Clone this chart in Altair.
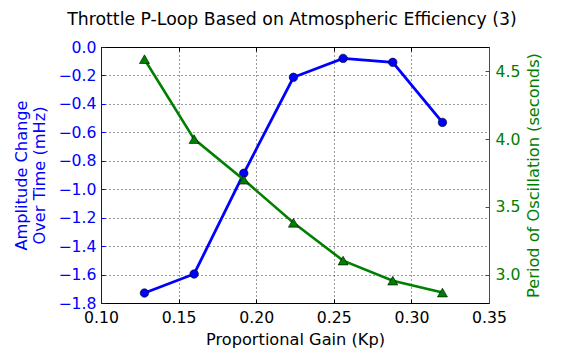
import altair as alt
import pandas as pd

# ---- data ----
kp = [0.128, 0.160, 0.192, 0.224, 0.256, 0.288, 0.320]
amplitude = [-1.730, -1.596, -0.888, -0.213, -0.080, -0.108, -0.530]
period = [4.59, 4.00, 3.70, 3.382, 3.103, 2.955, 2.867]

x_ticks = [0.10, 0.15, 0.20, 0.25, 0.30, 0.35]
amp_ticks = [0.0, -0.2, -0.4, -0.6, -0.8, -1.0, -1.2, -1.4, -1.6, -1.8]
period_ticks = [3.0, 3.5, 4.0, 4.5]

df = pd.DataFrame({"kp": kp, "amp": amplitude, "period": period})

FONT = "DejaVu Sans"
BLUE = "#0000ff"
GREEN = "#008000"
FS = 15.7
TFS = 16.2

xscale = alt.Scale(domain=[0.10, 0.35], nice=False, zero=False)
ampscale = alt.Scale(domain=[-1.8, 0.0], nice=False, zero=False)
perscale = alt.Scale(domain=[2.79, 4.68], nice=False, zero=False)

base = alt.Chart(df)

# x axes
x_main = alt.X("kp:Q", scale=xscale, title="Proportional Gain (Kp)",
               axis=alt.Axis(orient="bottom", values=x_ticks, format=".2f",
                             offset=-4, tickSize=4, tickColor="black", tickWidth=1,
                             domain=False, labelPadding=7, labelColor="black",
                             labelFontSize=FS, labelFont=FONT,
                             titleFont=FONT, titleFontSize=TFS, titleFontWeight="normal",
                             titleColor="black", titlePadding=7,
                             grid=True, gridColor="black", gridDash=[1, 3],
                             gridWidth=0.8, gridOpacity=1, labelFlush=False))
x_top = alt.X("kp:Q", scale=xscale, title=None,
              axis=alt.Axis(orient="top", values=x_ticks, offset=-4, tickSize=4,
                            tickColor="black", tickWidth=1, labels=False,
                            domain=False, grid=False))
x_none = alt.X("kp:Q", scale=xscale, axis=None)

# left (amplitude) axes
y_amp_main = alt.Y("amp:Q", scale=ampscale,
                   title=["Amplitude Change", "Over Time (mHz)"],
                   axis=alt.Axis(orient="left", values=amp_ticks, format=".1f",
                                 ticks=False, tickSize=0, domain=True,
                                 domainColor=BLUE, domainWidth=1,
                                 labelColor=BLUE, labelFontSize=FS, labelFont=FONT,
                                 labelPadding=5, labelFlush=False,
                                 titleColor=BLUE, titleFont=FONT, titleFontSize=TFS,
                                 titleFontWeight="normal", titlePadding=10,
                                 grid=True, gridColor="black", gridDash=[1, 3],
                                 gridWidth=0.8, gridOpacity=1))
y_amp_ticks = alt.Y("amp:Q", scale=ampscale, title=None,
                    axis=alt.Axis(orient="left", values=amp_ticks, offset=-4,
                                  tickSize=4, tickColor=BLUE, tickWidth=1,
                                  labels=False, domain=False, grid=False))

# right (period) axes
y_per_main = alt.Y("period:Q", scale=perscale,
                   title="Period of Oscillation (seconds)",
                   axis=alt.Axis(orient="right", values=period_ticks, format=".1f",
                                 ticks=False, tickSize=0, domain=True,
                                 domainColor=GREEN, domainWidth=1,
                                 labelColor=GREEN, labelFontSize=FS, labelFont=FONT,
                                 labelPadding=6, labelFlush=False,
                                 titleColor=GREEN, titleFont=FONT, titleFontSize=TFS,
                                 titleFontWeight="normal", titleAngle=270,
                                 titleBaseline="top", titlePadding=6, grid=False))
y_per_ticks = alt.Y("period:Q", scale=perscale, title=None,
                    axis=alt.Axis(orient="right", values=period_ticks, offset=-4,
                                  tickSize=4, tickColor=GREEN, tickWidth=1,
                                  labels=False, domain=False, grid=False))

blue_line = base.mark_line(color=BLUE, strokeWidth=2.8).encode(x=x_main, y=y_amp_main)
blue_pts = base.mark_point(shape="circle", filled=True, fill=BLUE, stroke="black",
                           strokeWidth=0.6, size=72, opacity=1).encode(x=x_top, y=y_amp_ticks)

green_line = base.mark_line(color=GREEN, strokeWidth=2.6).encode(x=x_none, y=y_per_main)
green_pts = base.mark_point(shape="triangle-up", filled=True, fill=GREEN, stroke="black",
                            strokeWidth=0.6, size=100, opacity=1).encode(x=x_none, y=y_per_ticks)

left = alt.layer(blue_line, blue_pts).resolve_axis(x="independent", y="independent")
right = alt.layer(green_line, green_pts).resolve_axis(y="independent")

chart = alt.layer(left, right).resolve_scale(y="independent").properties(
    width=388,
    height=256,
    title=alt.TitleParams("Throttle P-Loop Based on Atmospheric Efficiency (3)",
                          font=FONT, fontSize=17.3, fontWeight="normal", color="black",
                          anchor="middle", dx=-3, offset=11),
    autosize=alt.AutoSizeParams(type="none"),
    padding={"left": 93, "top": 39, "right": 60, "bottom": 48},
).configure_view(stroke="black", strokeWidth=1)

chart.save("out.html", embed_options={"renderer": "svg", "actions": False})
